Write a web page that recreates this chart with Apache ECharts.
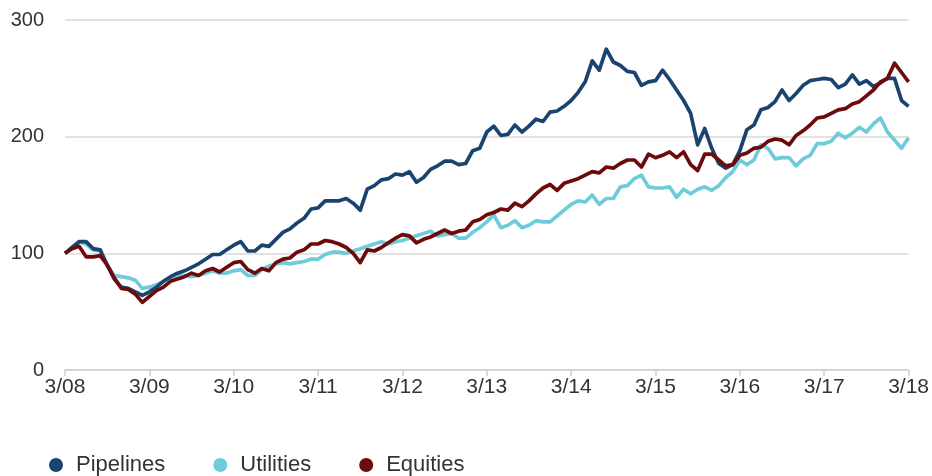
<!DOCTYPE html>
<html>
<head>
<meta charset="utf-8">
<script src="https://cdn.jsdelivr.net/npm/echarts@6/dist/echarts.min.js"></script>
<style>
  html,body{margin:0;padding:0;background:#fff;}
  #main{width:932px;height:476px;}
</style>
</head>
<body>
<div id="main"></div>
<script>
// tick labels, one every 12 months
const tickLabels=['3/08','3/09','3/10','3/11','3/12','3/13','3/14','3/15','3/16','3/17','3/18'];
const seriesNames=['Pipelines','Utilities','Equities'];

// monthly values, 3/08 = 100
const pipelines=[100,105,110,110,104,103,90,78,71,70,
  67,64,67,71,76,80,83,85,88,91,
  95,99,99,103,107,110,102,102,107,106,
  112,118,121,126,130,138,139,145,145,145,
  147,143,137,155,158,163,164,168,167,170,
  161,165,172,175,179,179,176,177,188,190,
  204,209,201,202,210,204,209,215,213,221,
  222,226,231,238,247,265,257,275,264,261,
  256,255,244,247,248,257,249,240,231,220,
  193,207,190,177,173,176,188,206,210,223,
  225,230,240,231,237,244,248,249,250,249,
  242,245,253,245,248,243,246,250,250,231,
  226];
const utilities=[100,105,110,108,103,102,90,81,80,79,
  77,70,71,73,76,79,81,81,80,81,
  83,85,83,83,85,86,81,81,86,89,
  91,92,91,92,93,95,95,99,101,101,
  100,102,104,106,108,110,108,110,111,113,
  115,117,119,115,116,117,113,113,118,122,
  127,133,122,124,128,122,124,128,127,127,
  132,137,142,145,144,150,142,147,147,157,
  158,164,167,157,156,156,157,148,155,151,
  155,157,154,158,165,170,180,176,180,193,
  190,181,182,182,175,181,184,194,194,196,
  203,199,203,208,204,211,216,204,197,190,
  199];
const equities=[100,104,106,97,97,98,90,79,70,69,
  65,58,63,68,71,76,78,80,83,81,
  85,87,84,88,92,93,86,83,87,85,
  92,95,96,101,103,108,108,111,110,108,
  105,100,92,103,102,105,109,113,116,115,
  109,112,114,117,120,117,119,120,127,129,
  133,135,138,137,143,140,145,151,156,159,
  154,160,162,164,167,170,169,174,173,177,
  180,180,174,185,182,184,187,182,187,176,
  171,185,185,180,175,176,184,186,190,191,
  196,198,197,193,201,205,210,216,217,220,
  223,224,228,230,235,240,247,250,263,255,
  247];

const colors={Pipelines:'#1a4370',Utilities:'#6ecbd9',Equities:'#6c0a0c'};
const fontFamily='"Liberation Sans", Arial, sans-serif';
const narrowFont='"Liberation Sans Narrow", "Liberation Sans", sans-serif';

class LineChart{
    constructor(elementId){
        this.elementId=elementId;
        this.chart=echarts.init(document.getElementById(elementId));
        this.chart.setOption(this.getOption());
    }

    //month index -> [x, y]
    toPoints(list){
        return list.map((v,i)=>[i,v]);
    }

    makeSeries(name,list){
        return {
            name,
            type:'line',
            data:this.toPoints(list),
            symbol:'none',
            lineStyle:{width:3.7,color:colors[name],join:'round'},
            itemStyle:{color:colors[name]},
            animation:false
        };
    }

    getOption(){
        return {
            backgroundColor:'#fff',
            textStyle:{fontFamily},
            grid:{left:65,right:20,top:20,bottom:106},
            legend:{
                data:seriesNames,
                left:44,
                top:449,
                icon:'circle',
                itemWidth:14,
                itemHeight:14,
                itemGap:48,
                textStyle:{fontSize:22,color:'#333',fontFamily,padding:[0,0,0,8]}
            },
            xAxis:{
                type:'value',
                min:0,
                max:120,
                interval:12,
                axisLine:{lineStyle:{color:'#cfcfcf',width:1.5}},
                axisTick:{length:6,lineStyle:{color:'#cfcfcf',width:1.5}},
                splitLine:{show:false},
                axisLabel:{
                    fontSize:21,
                    fontFamily:narrowFont,
                    color:'#333',
                    margin:7,
                    formatter:v=>tickLabels[v/12]
                }
            },
            yAxis:{
                type:'value',
                min:0,
                max:300,
                interval:100,
                axisLine:{show:false},
                axisTick:{show:false},
                splitLine:{lineStyle:{color:'#d9d9d9',width:1.5}},
                axisLabel:{fontSize:20,color:'#333',margin:21}
            },
            series:[
                this.makeSeries('Utilities',utilities),
                this.makeSeries('Pipelines',pipelines),
                this.makeSeries('Equities',equities)
            ]
        };
    }
}

new LineChart('main');
</script>
</body>
</html>
